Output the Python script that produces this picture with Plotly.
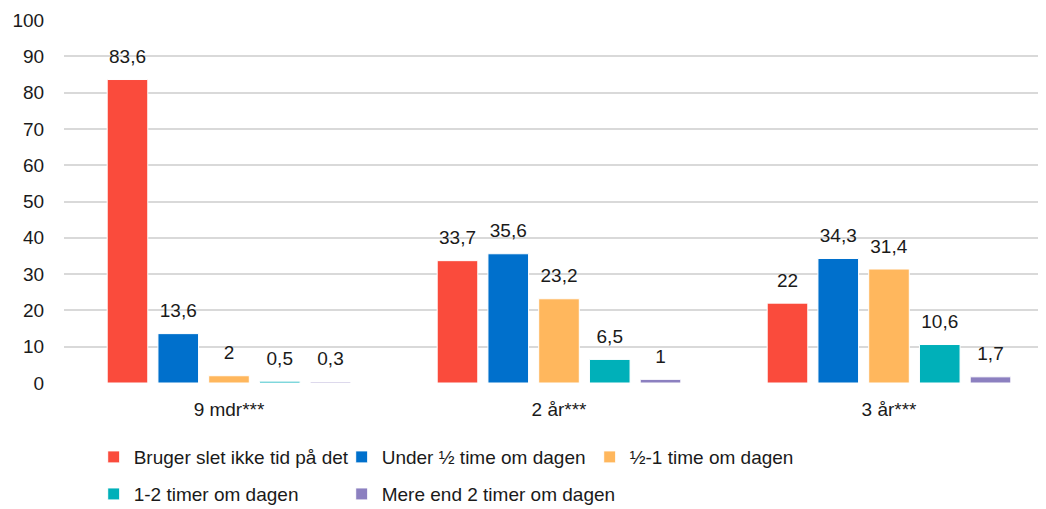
import plotly.graph_objects as go

categories = ["9 mdr***", "2 år***", "3 år***"]
series_names = [
    "Bruger slet ikke tid på det",
    "Under ½ time om dagen",
    "½-1 time om dagen",
    "1-2 timer om dagen",
    "Mere end 2 timer om dagen",
]
values_no_time = [83.6, 33.7, 22]
values_under_half = [13.6, 35.6, 34.3]
values_half_one = [2, 23.2, 31.4]
values_one_two = [0.5, 6.5, 10.6]
values_more_two = [0.3, 1, 1.7]
y_ticks = [0, 10, 20, 30, 40, 50, 60, 70, 80, 90, 100]

all_values = [values_no_time, values_under_half, values_half_one, values_one_two, values_more_two]
colors = ["#FA4B3C", "#0070CC", "#FFB75D", "#00B0B9", "#8C80C0"]
legend_rows = ["legend", "legend", "legend", "legend2", "legend2"]
legend_widths = [203, 203, 260, 203, 260]

LABEL_GAP = 2.6  # axis units of blank space between bar top and its label
FS = 19
FONT = "Liberation Sans, Arial, sans-serif"
TXT = "#1a1a1a"

def fmt(v):
    return ("%g" % v).replace(".", ",")

fig = go.Figure()
for i, (name, vals, col) in enumerate(zip(series_names, all_values, colors)):
    fig.add_trace(go.Bar(
        x=categories, y=vals, name=name, offsetgroup=str(i),
        marker=dict(color=col, line=dict(color="white", width=1)),
        legend=legend_rows[i], legendwidth=legend_widths[i], hoverinfo="x+y",
    ))
for i, vals in enumerate(all_values):
    fig.add_trace(go.Bar(
        x=categories, y=[LABEL_GAP] * len(vals), base=vals, offsetgroup=str(i),
        marker=dict(color="rgba(0,0,0,0)", line=dict(width=0)),
        text=[fmt(v) for v in vals], textposition="outside",
        textfont=dict(family=FONT, size=FS, color=TXT),
        cliponaxis=False, showlegend=False, hoverinfo="skip",
    ))

legend_common = dict(
    orientation="h", xanchor="left", yanchor="middle",
    font=dict(family=FONT, size=FS, color=TXT),
    traceorder="normal", bgcolor="rgba(0,0,0,0)",
)

fig.update_layout(
    width=1046, height=509,
    margin=dict(l=56, r=0, t=12, b=134),
    paper_bgcolor="white", plot_bgcolor="white",
    barmode="group", bargap=0.231, bargroupgap=0.2,
    font=dict(family=FONT, size=FS, color=TXT),
    showlegend=True,
    legend=dict(x=0.03, y=-0.204, **legend_common),
    legend2=dict(x=0.03, y=-0.306, **legend_common),
)
fig.update_xaxes(
    type="category", showgrid=False, showline=False, zeroline=False, automargin=False,
    ticks="outside", ticklen=9, tickcolor="rgba(0,0,0,0)",
    tickfont=dict(family=FONT, size=FS, color=TXT),
)
fig.update_yaxes(
    range=[0, 100], tickvals=y_ticks, showgrid=True, gridcolor="#D9D9D9", gridwidth=2,
    zeroline=False, showline=False, automargin=False,
    ticks="outside", ticklen=15, tickcolor="rgba(0,0,0,0)",
    tickfont=dict(family=FONT, size=FS, color=TXT),
)

fig.write_html("out.html")
